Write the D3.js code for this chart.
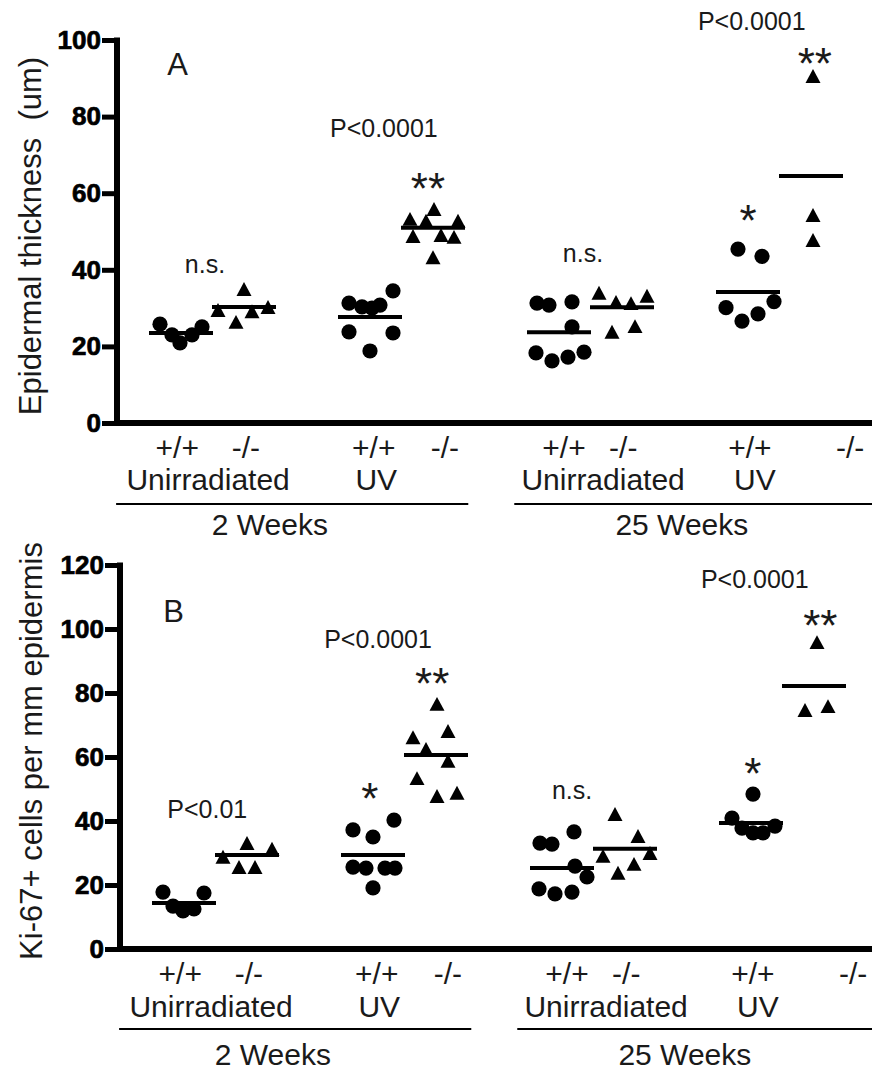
<!DOCTYPE html>
<html><head><meta charset="utf-8">
<script src="https://cdn.jsdelivr.net/npm/d3@7"></script>
<style>
body{margin:0;background:#fff}
text{font-family:"Liberation Sans",Arial,Helvetica,sans-serif;fill:#1a1a1a}
</style>
</head><body>
<svg id="chart" width="872" height="1077"></svg>
<script>
// ---------- DATA ----------
// group order: 2wk Unirr +/+, 2wk Unirr -/-, 2wk UV +/+, 2wk UV -/-, 25wk Unirr +/+, 25wk Unirr -/-, 25wk UV +/+, 25wk UV -/-
const groupIndex = [0, 1, 3, 4, 6, 7, 9, 10];
const genotype   = ["+/+", "-/-", "+/+", "-/-", "+/+", "-/-", "+/+", "-/-"];

// Panel A: Epidermal thickness (um)
const thicknessValues = [
  [25.8, 23.0, 20.9, 23.0, 25.1],
  [29.5, 26.4, 35.0, 29.2, 30.3],
  [31.3, 30.3, 30.0, 30.8, 34.5, 23.8, 23.5, 18.8],
  [53.3, 52.8, 55.9, 52.8, 48.8, 49.1, 48.6, 43.3],
  [31.3, 30.8, 31.6, 25.1, 18.3, 16.2, 17.2, 18.5],
  [34.0, 31.6, 31.3, 33.2, 23.8, 25.3],
  [45.4, 43.5, 30.1, 26.6, 28.5, 31.7],
  [90.6, 54.3, 47.8]
];
// horizontal jitter, in 1/63 of a category step
const thicknessJitter = [
  [-21, -9, -1, 11, 21],
  [-26, -8, 0, 8, 24],
  [-21, -8, 2, 10, 23, -21, 23, 0],
  [-23, -7, 1, 25, -20, 8, 21, 0],
  [-22, -10, 13, 13, -23, -7, 9, 25],
  [-23, -6, 9, 25, -10, 13],
  [-10, 14, -22, -6, 10, 26],
  [2, 2, 2]
];
const thicknessMeans = [23.5, 30.3, 27.7, 51.0, 23.7, 30.2, 34.2, 64.5];
const thicknessTicks = [0, 20, 40, 60, 80, 100];

// Panel B: Ki-67+ cells per mm epidermis
const ki67Values = [
  [17.8, 13.4, 11.9, 12.5, 17.5],
  [28.8, 33.1, 25.6, 25.6, 31.3],
  [37.2, 35.0, 40.3, 25.6, 25.3, 25.3, 25.3, 19.1],
  [76.6, 66.2, 68.1, 62.5, 58.8, 53.4, 47.8, 48.8],
  [33.1, 32.8, 36.6, 25.9, 22.5, 18.8, 17.2, 17.8],
  [42.2, 35.3, 29.1, 30.0, 26.6, 23.8],
  [48.4, 40.9, 37.8, 36.3, 36.3, 38.4],
  [95.9, 74.7, 75.9]
];
const ki67Jitter = [
  [-21, -11, -1, 10, 20],
  [-24, 0, -8, 8, 25],
  [-20, 0, 21, -20, -7, 12, 22, 0],
  [1, -23, 12, -10, 12, -19, 1, 21],
  [-22, -10, 12, 13, 25, -23, -7, 10],
  [-10, 13, -22, 25, 9, -7],
  [2, -19, -9, 2, 12, 24],
  [3, -9, 14]
];
const ki67Means = [14.4, 29.4, 29.4, 60.6, 25.3, 31.3, 39.4, 82.2];
const ki67Ticks = [0, 20, 40, 60, 80, 100, 120];

// annotations: [text, category position, value, kind]
const thicknessNotes = [
  ["n.s.", 0.38, 39.2, "p"],
  ["P<0.0001", 3.22, 74.7, "p"],
  ["**", 3.92, 57.2, "s"],
  ["n.s.", 6.38, 42.0, "p"],
  ["*", 9.0, 48.8, "s"],
  ["P<0.0001", 9.06, 102.6, "p"],
  ["**", 10.06, 89.8, "s"]
];
const ki67Notes = [
  ["P<0.01", 0.37, 40.9, "p"],
  ["*", 2.95, 42.2, "s"],
  ["P<0.0001", 3.08, 94.1, "p"],
  ["**", 3.94, 78.1, "s"],
  ["n.s.", 6.16, 46.9, "p"],
  ["*", 9.03, 50.0, "s"],
  ["P<0.0001", 9.06, 112.8, "p"],
  ["**", 10.1, 96.3, "s"]
];

// category label rows (text, category position)
const genotypeLabels = [["+/+", -0.06], ["-/-", 1.03], ["+/+", 3.06], ["-/-", 4.19],
                        ["+/+", 6.08], ["-/-", 7.02], ["+/+", 9.03], ["-/-", 10.62]];
const treatmentLabels = [["Unirradiated", 0.43], ["UV", 3.1], ["Unirradiated", 6.7], ["UV", 9.11]];
const timeLabels = [["2 Weeks", 1.41, -1.03, 4.56], ["25 Weeks", 7.95, 5.29, 11.0]];

// ---------- DRAWING ----------
const svg = d3.select("#chart");

const triangle = {
  draw(ctx, size) {
    const w = Math.sqrt(size) * 1.5, h = w * 0.93;
    ctx.moveTo(0, -h / 2);
    ctx.lineTo(w / 2, h / 2);
    ctx.lineTo(-w / 2, h / 2);
    ctx.closePath();
  }
};

function panel(cfg) {
  const g = svg.append("g");
  const x = d3.scaleLinear().domain([0, 10]).range(cfg.xr);
  const y = d3.scaleLinear().domain([0, cfg.max]).range(cfg.yr);
  const step = x(1) - x(0);
  const jit = d3.scaleLinear().domain([0, 63]).range([0, step]);
  const ax = cfg.axisX;

  // axes
  const yAxis = d3.axisLeft(y).tickValues(cfg.ticks).tickSize(15).tickSizeOuter(0).tickPadding(1);
  const ag = g.append("g").attr("transform", `translate(${ax},0)`).call(yAxis);
  ag.attr("font-size", null).attr("font-family", null);
  ag.select(".domain").remove();
  ag.selectAll(".tick line").attr("stroke", "#000").attr("stroke-width", 5);
  ag.selectAll(".tick text").style("font-size", "26px").style("font-weight", "bold")
    .style("fill", "#000").style("stroke", "#000").style("stroke-width", "0.7px");
  g.append("line").attr("x1", ax).attr("x2", ax).attr("y1", y(cfg.max) - 2.5).attr("y2", y(0) + 3)
    .attr("stroke", "#000").attr("stroke-width", 6);
  g.append("line").attr("x1", ax - 3).attr("x2", 872).attr("y1", y(0)).attr("y2", y(0))
    .attr("stroke", "#000").attr("stroke-width", 6);

  // y title
  g.append("text").attr("transform", `translate(${cfg.titleX},${cfg.titleY}) rotate(-90)`)
    .attr("text-anchor", "middle").attr("font-size", 31).text(cfg.title);

  // panel letter
  g.append("text").attr("x", x(cfg.letterPos[0])).attr("y", y(cfg.letterPos[1]))
    .attr("font-size", 31).text(cfg.letter);

  // points
  cfg.values.forEach((vals, gi) => {
    const cx = x(groupIndex[gi]);
    const isCircle = genotype[gi] === "+/+";
    vals.forEach((v, k) => {
      const px = cx + jit(cfg.jitter[gi][k]);
      if (isCircle) {
        g.append("circle").attr("cx", px).attr("cy", y(v)).attr("r", 7.6).attr("fill", "#000");
      } else {
        g.append("path").attr("d", d3.symbol().type(triangle).size(100)())
          .attr("transform", `translate(${px},${y(v)})`).attr("fill", "#000");
      }
    });
    // mean bar
    g.append("line").attr("x1", cx - 32).attr("x2", cx + 32)
      .attr("y1", y(cfg.means[gi])).attr("y2", y(cfg.means[gi]))
      .attr("stroke", "#000").attr("stroke-width", 4);
  });

  // annotations
  cfg.notes.forEach(([t, pos, v, kind]) => {
    g.append("text").attr("x", x(pos)).attr("y", y(v)).attr("text-anchor", "middle")
      .attr("font-size", kind === "s" ? 44 : 25).text(t);
  });

  // category labels
  const z = y(0);
  genotypeLabels.forEach(([t, pos]) => {
    g.append("text").attr("x", x(pos)).attr("y", z + cfg.rows[0]).attr("text-anchor", "middle")
      .attr("font-size", 30).text(t);
  });
  treatmentLabels.forEach(([t, pos]) => {
    g.append("text").attr("x", x(pos)).attr("y", z + cfg.rows[1]).attr("text-anchor", "middle")
      .attr("font-size", 30).text(t);
  });
  timeLabels.forEach(([t, pos, a, b]) => {
    g.append("line").attr("x1", x(a)).attr("x2", Math.min(872, x(b)))
      .attr("y1", z + cfg.rows[2]).attr("y2", z + cfg.rows[2])
      .attr("stroke", "#000").attr("stroke-width", 2.2);
    g.append("text").attr("x", x(pos)).attr("y", z + cfg.rows[3]).attr("text-anchor", "middle")
      .attr("font-size", 30).text(t);
  });
}

panel({
  xr: [181, 811], yr: [423, 40], max: 100, ticks: thicknessTicks, axisX: 117,
  values: thicknessValues, jitter: thicknessJitter, means: thicknessMeans, notes: thicknessNotes,
  title: "Epidermal thickness\u00A0 (um)", titleX: 41, titleY: 236,
  letter: "A", letterPos: [-0.22, 90.9], rows: [35, 67, 81, 112]
});
panel({
  xr: [184, 814], yr: [949, 565], max: 120, ticks: ki67Ticks, axisX: 120,
  values: ki67Values, jitter: ki67Jitter, means: ki67Means, notes: ki67Notes,
  title: "Ki-67+ cells per mm epidermis", titleX: 42, titleY: 751,
  letter: "B", letterPos: [-0.33, 102.2], rows: [35, 68, 80, 116]
});
</script>
</body></html>
